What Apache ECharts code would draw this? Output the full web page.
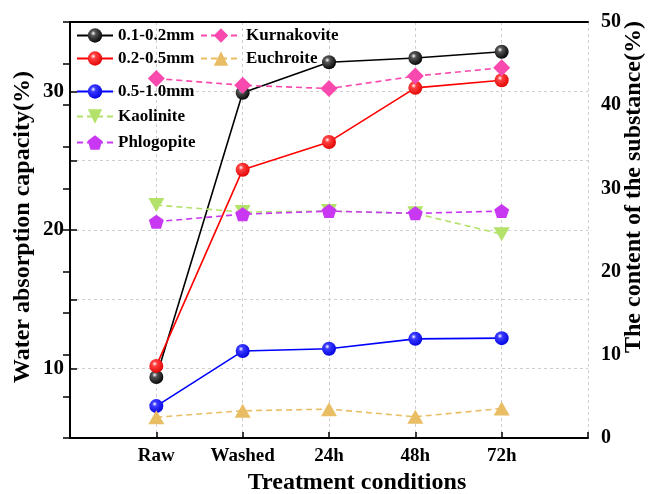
<!DOCTYPE html>
<html><head><meta charset="utf-8">
<script src="https://cdn.jsdelivr.net/npm/echarts@6/dist/echarts.min.js"></script>
<style>html,body{margin:0;padding:0;background:#fff}#c{width:648px;height:494px}</style>
</head><body><div id="c"></div>
<script>
const categories = ['Raw', 'Washed', '24h', '48h', '72h'];
const leftTicks = [10, 20, 30];
const rightTicks = [0, 10, 20, 30, 40, 50];
const s01_02 = [9.4, 29.9, 32.1, 32.4, 32.85];
const s02_05 = [10.2, 24.35, 26.35, 30.25, 30.8];
const s05_10 = [7.3, 11.27, 11.44, 12.15, 12.2];
const kaolinite = [28.0, 27.15, 27.27, 27.0, 24.5];
const phlogopite = [26.0, 26.9, 27.27, 27.0, 27.27];
const kurnakovite = [43.2, 42.4, 42.0, 43.5, 44.5];
const euchroite = [2.5, 3.27, 3.47, 2.55, 3.55];

const FONT = 'Liberation Serif';
function pts(v) { return v.map((y, i) => [i + 1, y]); }
function sphere(base, mid) {
  return { type: 'radial', x: 0.38, y: 0.35, r: 0.7,
    colorStops: [{ offset: 0, color: '#ffffff' }, { offset: 0.25, color: mid }, { offset: 1, color: base }] };
}
const pentagon = 'path://M50,0 L100,38 L81,100 L19,100 L0,38 Z';
const invTri = 'path://M0,0 L100,0 L50,90 Z';

function solidSeries(name, data, base, mid, lineColor) {
  return { name, type: 'line', yAxisIndex: 0, data: pts(data), symbol: 'circle', symbolSize: 14,
    lineStyle: { color: lineColor, width: 1.6 }, itemStyle: { color: sphere(base, mid), borderWidth: 0 }, z: 2 };
}
function dashSeries(name, data, color, symbol, size) {
  return { name, type: 'line', yAxisIndex: 1, data: pts(data), symbol, symbolSize: size,
    lineStyle: { color, width: 1.6, type: [6, 4] }, itemStyle: { color }, z: 3 };
}

const series = [
  solidSeries('0.1-0.2mm', s01_02, '#000000', '#555555', '#000000'),
  solidSeries('0.2-0.5mm', s02_05, '#e00000', '#ff4040', '#ff0000'),
  solidSeries('0.5-1.0mm', s05_10, '#0000e0', '#3a3aff', '#0000ff'),
  dashSeries('Kaolinite', kaolinite, '#b3e26a', invTri, [16, 14]),
  dashSeries('Phlogopite', phlogopite, '#c838f2', pentagon, [15, 14]),
  dashSeries('Kurnakovite', kurnakovite, '#f84aae', 'diamond', [17, 17]),
  dashSeries('Euchroite', euchroite, '#e9bd63', 'triangle', [16, 14])
];

const legendPos = [
  ['0.1-0.2mm', 76, 36, 36], ['0.2-0.5mm', 76, 59, 36], ['0.5-1.0mm', 76, 92, 36],
  ['Kaolinite', 76, 117, 36], ['Phlogopite', 76, 143, 36],
  ['Kurnakovite', 200, 36, 40], ['Euchroite', 200, 59, 40]
];
const legends = legendPos.map(([n, x, y, w]) => ({
  data: [n], left: x, top: y - 9, itemWidth: w, itemHeight: 18, itemGap: 0, padding: 0,
  textStyle: { fontFamily: FONT, fontWeight: 'bold', fontSize: 17, color: '#000' }
}));

const axisText = { fontFamily: FONT, fontWeight: 'bold', color: '#000' };
const option = {
  animation: false,
  backgroundColor: '#fff',
  legend: legends,
  grid: { left: 70, right: 60, top: 22, bottom: 56, show: false },
  xAxis: [{
    type: 'value', min: 0, max: 6, interval: 1,
    axisLine: { lineStyle: { color: '#000', width: 2 } },
    axisTick: { inside: true, length: 6, lineStyle: { color: '#000', width: 1.5 } },
    axisLabel: Object.assign({ fontSize: 19, margin: 9, formatter: v => categories[v - 1] || '' }, axisText),
    splitLine: { show: true, lineStyle: { color: '#cfcfcf', type: [3, 3], width: 1 } }
  }, {
    type: 'value', position: 'top', min: 0, max: 6,
    axisLine: { show: true, lineStyle: { color: '#000', width: 2 } },
    axisTick: { show: false }, axisLabel: { show: false }, splitLine: { show: false }
  }],
  yAxis: [{
    type: 'value', min: 5, max: 35, interval: 5, position: 'left',
    axisLine: { show: true, lineStyle: { color: '#000', width: 2 } },
    axisTick: { show: true, inside: true, length: 7, lineStyle: { color: '#000', width: 1.5 } },
    axisLabel: Object.assign({ fontSize: 21, margin: 6, formatter: v => leftTicks.includes(v) ? String(v) : '' }, axisText),
    splitLine: { show: true, lineStyle: { color: '#cfcfcf', type: [3, 3], width: 1 } }
  }, {
    type: 'value', min: 0, max: 50, interval: 5, position: 'right',
    axisLine: { show: true, lineStyle: { color: '#000', width: 2 } },
    axisTick: { show: true, inside: true, length: 7, lineStyle: { color: '#000', width: 1.5 } },
    axisLabel: Object.assign({ fontSize: 20, margin: 13, formatter: v => rightTicks.includes(v) ? String(v) : '' }, axisText),
    splitLine: { show: false }
  }],
  graphic: [
    { type: 'text', x: 23, y: 227, rotation: Math.PI / 2,
      style: { text: 'Water absorption capacity(%)', fontFamily: FONT, fontWeight: 'bold', fontSize: 24, fill: '#000', align: 'center', verticalAlign: 'middle' } },
    { type: 'text', x: 634, y: 187, rotation: Math.PI / 2,
      style: { text: 'The content of the substance(%)', fontFamily: FONT, fontWeight: 'bold', fontSize: 24, fill: '#000', align: 'center', verticalAlign: 'middle' } },
    { type: 'text', x: 357, y: 483,
      style: { text: 'Treatment conditions', fontFamily: FONT, fontWeight: 'bold', fontSize: 24, fill: '#000', align: 'center', verticalAlign: 'middle' } }
  ],
  series
};
echarts.init(document.getElementById('c'), null, { renderer: 'canvas' }).setOption(option);
</script></body></html>
